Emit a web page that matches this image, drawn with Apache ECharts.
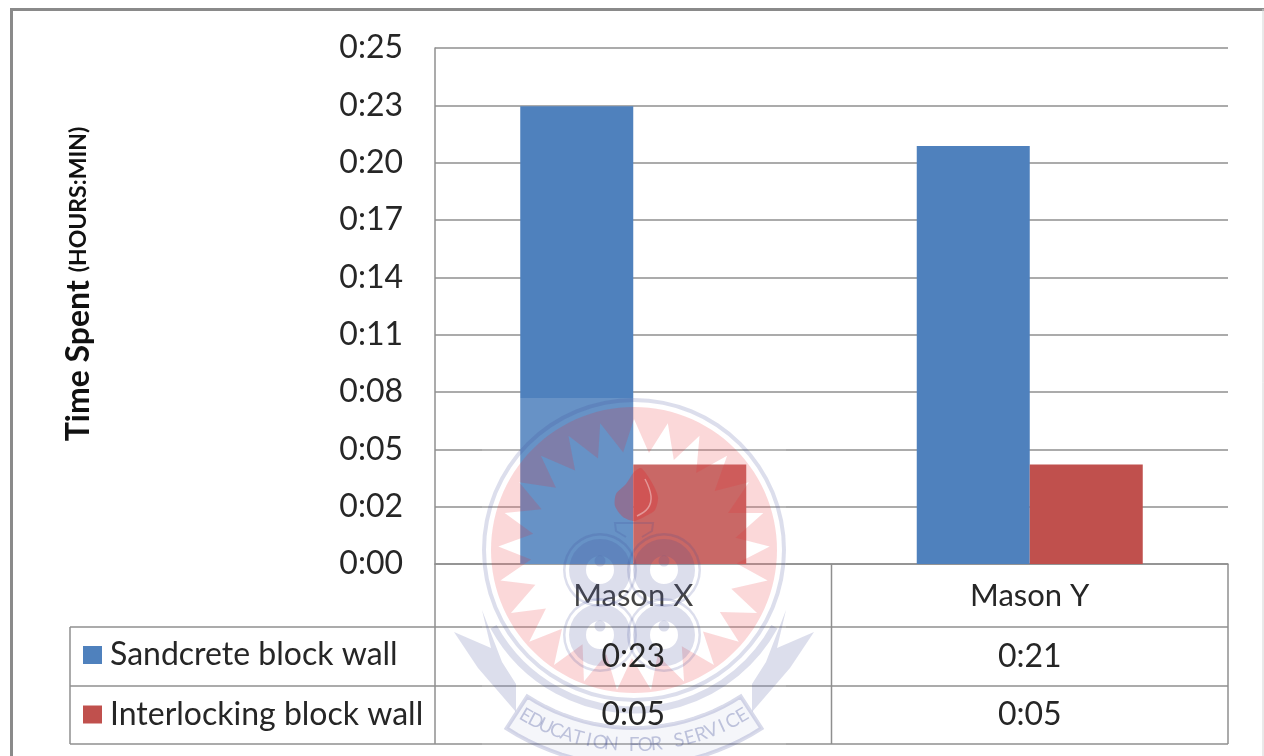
<!DOCTYPE html>
<html>
<head>
<meta charset="utf-8">
<style>html,body{margin:0;padding:0;background:#fff}#chart{width:1264px;height:756px}</style>
<script src="https://cdn.jsdelivr.net/npm/echarts@6/dist/echarts.min.js"></script>
</head>
<body>
<div id="chart"></div>
<script>
// Time per wall, in minutes.
const categories = ['Mason X', 'Mason Y'];
const sandcreteMinutes = [23, 21];
const interlockingMinutes = [5, 5];
const seriesNames = ['Sandcrete block wall', 'Interlocking block wall'];

// The axis runs in steps of 0.002 of a day; its labels show whole minutes, truncated.
const tickStepMinutes = 2.88;
const axisMaxMinutes = 25.92;
const tickLabels = ['0:00', '0:02', '0:05', '0:08', '0:11', '0:14', '0:17', '0:20', '0:23', '0:25'];

const FONT = 'Lato, "Open Sans", sans-serif';
const INK = '#262626';
const RULE = '#8f8f8f';
const BLUE = '#4f81bd';
const RED = '#c0504d';

const grid = { left: 435, top: 48, width: 793, height: 516 };
const tableRows = [627, 686, 744];
const gridRight = grid.left + grid.width;
const gridBottom = grid.top + grid.height;

const asClock = m => '0:' + String(m).padStart(2, '0');

// Straight rule helper for the chart frame and the data table.
const rule = (x1, y1, x2, y2, color = RULE, lineWidth = 1.5) => ({
  type: 'line', z: 8, silent: true,
  shape: { x1, y1, x2, y2 },
  style: { stroke: color, lineWidth }
});

const frame = [
  rule(10, 9.5, 1264, 9.5, '#8a8a8a', 3),
  rule(11.5, 9, 11.5, 756, '#8a8a8a', 3),
  rule(1263, 9, 1263, 756, '#d4d4d4', 1)
];

const columnWidth = grid.width / categories.length;
const tableRules = [
  ...tableRows.map(y => rule(70, y, gridRight, y)),
  rule(70, tableRows[0], 70, tableRows[2]),
  rule(grid.left, gridBottom, grid.left, tableRows[2]),
  rule(grid.left + columnWidth, gridBottom, grid.left + columnWidth, tableRows[2]),
  rule(gridRight, gridBottom, gridRight, tableRows[2])
];

const cell = (text, x, y) => ({
  type: 'text', z: 30, silent: true, x, y,
  style: { text, fill: INK, font: '32px ' + FONT, textAlign: 'center', textVerticalAlign: 'middle' }
});
const rowCenters = [657, 715];
const tableCells = [sandcreteMinutes, interlockingMinutes].flatMap((row, r) =>
  row.map((v, c) => cell(asClock(v), grid.left + columnWidth * (c + 0.5), rowCenters[r]))
);

// University crest laid faintly over the plot.
const crest = { x: 634, y: 550 };
const PINK = 'rgba(235,40,44,0.18)';
const LAV = 'rgba(60,72,150,0.18)';

function polar(cx, cy, r, deg) {
  const a = deg * Math.PI / 180;
  return [cx + r * Math.sin(a), cy - r * Math.cos(a)];
}

function sunburstDisc() {
  const pts = [];
  const discR = 143, tipR = 136, valleyR = 103, rays = 25, starY = crest.y + 5;
  for (let d = 0; d <= 360; d += 3) pts.push(polar(crest.x, crest.y, discR, d));
  const step = 360 / rays;
  for (let i = rays; i >= 0; i--) {
    pts.push(polar(crest.x, starY, tipR, i * step));
    if (i > 0) pts.push(polar(crest.x, starY, valleyR, (i - 0.42) * step));
  }
  return { type: 'polygon', z: 10, silent: true, shape: { points: pts }, style: { fill: PINK } };
}

function ringEl(cx, cy, r0, r, fill = LAV) {
  return { type: 'ring', z: 10, silent: true, shape: { cx, cy, r0, r }, style: { fill } };
}

function knot(cx, cy) {
  return [
    ringEl(cx, cy, 34.5, 37),
    ringEl(cx, cy, 14, 31),
    { type: 'circle', z: 10, silent: true, shape: { cx, cy: cy - 9, r: 5.5 }, style: { fill: LAV } }
  ];
}

function flame() {
  const pts = [[641, 468], [651, 481], [658, 497], [655, 510], [644, 517], [634, 521], [623, 517], [615, 506], [616, 494], [626, 484], [634, 472]];
  return { type: 'polygon', z: 10, silent: true, shape: { points: pts, smooth: 0.25 }, style: { fill: 'rgba(225,40,44,0.3)' } };
}

// Thin pale curl inside the flame and the small bow beneath it.
const flameCurl = {
  type: 'polyline', z: 11, silent: true,
  shape: { points: [[645, 479], [651, 496], [648, 508], [637, 516]], smooth: 0.4 },
  style: { stroke: 'rgba(255,255,255,0.4)', lineWidth: 1.5, fill: 'none' }
};
const bow = {
  type: 'polyline', z: 11, silent: true,
  shape: { points: [[642, 537], [652, 531], [653, 523], [615, 523], [616, 531], [626, 537]] },
  style: { stroke: LAV, lineWidth: 2, fill: 'none' }
};

function wing(sign) {
  const pts = [[152, 60], [143, 98], [180, 82], [156, 118], [118, 162], [118, 134], [132, 112]];
  return {
    type: 'polygon', z: 10, silent: true,
    shape: { points: pts.map(([dx, dy]) => [crest.x + sign * dx, crest.y + dy]) },
    style: { fill: LAV }
  };
}

function banner() {
  const cx = crest.x, cy = 532, pts = [];
  for (let d = -33; d <= 33; d += 3) pts.push(polar(cx, cy, 196, 180 + d));
  for (let d = 33; d >= -33; d -= 3) pts.push(polar(cx, cy, 234, 180 + d));
  return {
    type: 'polygon', z: 10, silent: true,
    shape: { points: pts },
    style: { fill: 'rgba(60,72,150,0.05)', stroke: 'rgba(60,72,150,0.2)', lineWidth: 4 }
  };
}

function motto(text) {
  const chars = [...text], spread = 30.5, cx = crest.x, cy = 532, r = 213;
  return chars.map((ch, i) => {
    const deg = -spread + 2 * spread * i / (chars.length - 1);
    const [x, y] = polar(cx, cy, r, 180 - deg);
    return {
      type: 'text', z: 11, silent: true, x, y,
      rotation: deg * Math.PI / 180,
      style: { text: ch, fill: 'rgba(60,72,150,0.3)', font: '19px ' + FONT, textAlign: 'center', textVerticalAlign: 'middle' }
    };
  });
}

const crestShapes = [
  { type: 'rect', z: 9, silent: true, shape: { x: 482, y: 398, width: 304, height: 358 }, style: { fill: 'rgba(255,255,255,0.14)' } },
  sunburstDisc(),
  ringEl(crest.x, crest.y, 148, 152),
  { type: 'arc', z: 10, silent: true, shape: { cx: crest.x, cy: crest.y, r: 160, startAngle: 0.5, endAngle: Math.PI - 0.5 }, style: { stroke: LAV, lineWidth: 7, fill: 'none' } },
  flame(), flameCurl, bow,
  ...knot(600, 570), ...knot(664, 570), ...knot(600, 635), ...knot(664, 635),
  wing(1), wing(-1),
  banner(),
  ...motto('EDUCATION FOR SERVICE')
];

const chart = echarts.init(document.getElementById('chart'), null, { renderer: 'canvas' });
chart.setOption({
  animation: false,
  backgroundColor: '#ffffff',
  grid,
  legend: {
    orient: 'vertical', left: 83, top: 639,
    itemWidth: 19, itemHeight: 18, itemGap: 27.5, padding: 0,
    selectedMode: false, icon: 'rect',
    data: seriesNames,
    textStyle: { fontFamily: FONT, fontSize: 32, color: INK, lineHeight: 30, padding: [0, 0, 0, 3] }
  },
  xAxis: {
    type: 'category', data: categories,
    axisTick: { show: false },
    axisLine: { lineStyle: { color: RULE, width: 1.5 } },
    axisLabel: { fontFamily: FONT, fontSize: 31, color: INK, margin: 16 }
  },
  yAxis: {
    type: 'value', min: 0, max: axisMaxMinutes, interval: tickStepMinutes,
    axisLine: { show: true, lineStyle: { color: RULE, width: 1.5 } },
    axisTick: { show: false },
    splitLine: { lineStyle: { color: RULE, width: 1.5 } },
    axisLabel: {
      fontFamily: FONT, fontSize: 32, color: INK, margin: 32,
      padding: [3, 0, 0, 0],
      formatter: v => tickLabels[Math.round(v / tickStepMinutes)]
    },
    name: '{big|Time Spent }{small|(HOURS:MIN)}',
    nameLocation: 'middle', nameRotate: 90, nameGap: 340,
    nameTextStyle: {
      padding: [0, 0, 0, 44],
      rich: {
        big: { fontFamily: FONT, fontSize: 32, fontWeight: 'bold', color: '#111' },
        small: { fontFamily: FONT, fontSize: 23, fontWeight: 'bold', color: '#111' }
      }
    }
  },
  series: [
    { name: seriesNames[0], type: 'bar', data: sandcreteMinutes, barWidth: 113, barGap: 0, itemStyle: { color: BLUE } },
    { name: seriesNames[1], type: 'bar', data: interlockingMinutes, barWidth: 113, barGap: 0, itemStyle: { color: RED } }
  ],
  graphic: { elements: [...crestShapes, ...frame, ...tableRules, ...tableCells] }
});
</script>
</body>
</html>
